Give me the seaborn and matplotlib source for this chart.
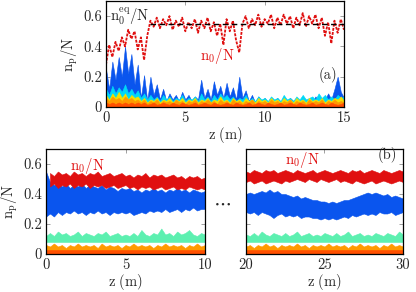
import numpy as np
import seaborn as sns
import matplotlib
matplotlib.use("Agg")
import matplotlib.pyplot as plt

# ---- panel (a): z in [0, 15] m ----
z_a = [0.0, 0.2, 0.4, 0.6, 0.8, 1.0, 1.2, 1.4, 1.6, 1.8, 2.0, 2.2, 2.4, 2.6, 2.8, 3.0,
       3.2, 3.4, 3.6, 3.8, 4.0, 4.2, 4.4, 4.6, 4.8, 5.0, 5.2, 5.4, 5.6, 5.8, 6.0, 6.2,
       6.4, 6.6, 6.8, 7.0, 7.2, 7.4, 7.6, 7.8, 8.0, 8.2, 8.4, 8.6, 8.8, 9.0, 9.2, 9.4,
       9.6, 9.8, 10.0, 10.2, 10.4, 10.6, 10.8, 11.0, 11.2, 11.4, 11.6, 11.8, 12.0, 12.2,
       12.4, 12.6, 12.8, 13.0, 13.2, 13.4, 13.6, 13.8, 14.0, 14.2, 14.4, 14.6, 14.8, 15.0]
n0_a = [0.28, 0.41, 0.33, 0.43, 0.37, 0.46, 0.40, 0.51, 0.45, 0.50, 0.38, 0.46, 0.31, 0.47,
        0.57, 0.53, 0.59, 0.52, 0.58, 0.54, 0.60, 0.51, 0.57, 0.53, 0.59, 0.50, 0.56, 0.52,
        0.58, 0.49, 0.57, 0.52, 0.59, 0.50, 0.56, 0.47, 0.55, 0.41, 0.58, 0.50, 0.57, 0.44,
        0.36, 0.55, 0.60, 0.52, 0.58, 0.54, 0.61, 0.53, 0.58, 0.55, 0.61, 0.52, 0.59, 0.54,
        0.61, 0.55, 0.60, 0.52, 0.59, 0.54, 0.62, 0.53, 0.60, 0.55, 0.61, 0.52, 0.59, 0.47,
        0.56, 0.42, 0.57, 0.49, 0.58, 0.51]
blue_a = [0.25, 0.12, 0.30, 0.18, 0.33, 0.20, 0.40, 0.22, 0.35, 0.15, 0.28, 0.06, 0.21, 0.04,
          0.20, 0.08, 0.15, 0.05, 0.12, 0.04, 0.09, 0.05, 0.08, 0.04, 0.10, 0.05, 0.08, 0.04,
          0.07, 0.05, 0.18, 0.06, 0.12, 0.05, 0.17, 0.08, 0.14, 0.06, 0.16, 0.07, 0.13, 0.05,
          0.20, 0.06, 0.11, 0.04, 0.08, 0.03, 0.07, 0.04, 0.06, 0.03, 0.05, 0.04, 0.06, 0.03,
          0.05, 0.03, 0.06, 0.04, 0.05, 0.03, 0.06, 0.04, 0.05, 0.03, 0.07, 0.04, 0.06, 0.05,
          0.09, 0.05, 0.12, 0.20, 0.10, 0.06]
cyan_a = [0.12, 0.08, 0.14, 0.09, 0.13, 0.10, 0.15, 0.09, 0.12, 0.08, 0.11,
          0.06, 0.09, 0.05, 0.08, 0.05, 0.07, 0.04, 0.08, 0.05, 0.07, 0.04, 0.06, 0.05, 0.08,
          0.04, 0.06, 0.05, 0.07, 0.04, 0.09, 0.05, 0.07, 0.04, 0.08, 0.05, 0.09, 0.06, 0.08,
          0.05, 0.07, 0.04, 0.06, 0.05, 0.08, 0.04, 0.06, 0.04, 0.07, 0.05, 0.06, 0.04, 0.07,
          0.05, 0.06, 0.04, 0.08, 0.05, 0.06, 0.04, 0.07, 0.05, 0.08, 0.05, 0.06, 0.07, 0.05,
          0.09, 0.06, 0.08, 0.05, 0.07, 0.05, 0.08, 0.06, 0.07]
yellow_a = [0.08, 0.05, 0.09, 0.06, 0.10, 0.06, 0.09, 0.05, 0.08, 0.06, 0.07,
            0.04, 0.06, 0.03, 0.05, 0.04, 0.06, 0.03, 0.05, 0.04, 0.06, 0.03, 0.05, 0.04,
            0.06, 0.03, 0.05, 0.04, 0.06, 0.03, 0.05, 0.04, 0.06, 0.03, 0.05, 0.04, 0.07,
            0.04, 0.05, 0.03, 0.06, 0.04, 0.05, 0.03, 0.06, 0.04, 0.05, 0.03, 0.06, 0.04,
            0.05, 0.03, 0.06, 0.04, 0.05, 0.03, 0.06, 0.04, 0.05, 0.03, 0.06, 0.04, 0.05,
            0.03, 0.06, 0.04, 0.05, 0.04, 0.06, 0.03, 0.05, 0.04, 0.06, 0.05, 0.07, 0.04]
orange_a = [0.06, 0.04, 0.07, 0.05, 0.06, 0.04, 0.07, 0.05, 0.06, 0.04, 0.05,
            0.03, 0.05, 0.02, 0.04, 0.03, 0.05, 0.02, 0.04, 0.03, 0.04, 0.02, 0.05, 0.03,
            0.04, 0.02, 0.04, 0.03, 0.05, 0.02, 0.04, 0.03, 0.05, 0.03, 0.04, 0.02, 0.05,
            0.03, 0.04, 0.02, 0.05, 0.03, 0.04, 0.02, 0.04, 0.03, 0.05, 0.02, 0.04, 0.03,
            0.04, 0.02, 0.05, 0.03, 0.04, 0.02, 0.04, 0.03, 0.05, 0.02, 0.04, 0.03, 0.04,
            0.02, 0.05, 0.03, 0.04, 0.03, 0.05, 0.02, 0.04, 0.03, 0.05, 0.03, 0.04, 0.03]
redor_a = [0.03, 0.02, 0.03, 0.02, 0.03, 0.02, 0.03, 0.02, 0.03, 0.02, 0.03,
           0.02, 0.03, 0.015, 0.02, 0.03, 0.015, 0.02, 0.03, 0.02, 0.015, 0.03, 0.02,
           0.015, 0.03, 0.02, 0.015, 0.02, 0.03, 0.015, 0.02, 0.03, 0.02, 0.015, 0.03,
           0.02, 0.015, 0.02, 0.03, 0.02, 0.015, 0.03, 0.02, 0.015, 0.02, 0.03, 0.015,
           0.02, 0.03, 0.02, 0.015, 0.03, 0.02, 0.015, 0.02, 0.03, 0.015, 0.02, 0.03,
           0.02, 0.015, 0.03, 0.02, 0.015, 0.02, 0.03, 0.015, 0.02, 0.03, 0.02, 0.015,
           0.03, 0.02, 0.015, 0.02, 0.03]
n0_eq = 0.55
eq_z = [2.8, 15.0]

# ---- panel (b): z in [0, 10] m and [20, 30] m ----
z_b1 = [0.0, 0.25, 0.5, 0.75, 1.0, 1.25, 1.5, 1.75, 2.0, 2.25, 2.5, 2.75, 3.0, 3.25,
        3.5, 3.75, 4.0, 4.25, 4.5, 4.75, 5.0, 5.25, 5.5, 5.75, 6.0, 6.25, 6.5, 6.75,
        7.0, 7.25, 7.5, 7.75, 8.0, 8.25, 8.5, 8.75, 9.0, 9.25, 9.5, 9.75, 10.0]
z_b2 = [20.0, 20.25, 20.5, 20.75, 21.0, 21.25, 21.5, 21.75, 22.0, 22.25, 22.5, 22.75,
        23.0, 23.25, 23.5, 23.75, 24.0, 24.25, 24.5, 24.75, 25.0, 25.25, 25.5, 25.75,
        26.0, 26.25, 26.5, 26.75, 27.0, 27.25, 27.5, 27.75, 28.0, 28.25, 28.5, 28.75,
        29.0, 29.25, 29.5, 29.75, 30.0]

red_hi_1 = [np.nan, 0.54, 0.52, 0.55, 0.53, 0.54, 0.52, 0.55, 0.53, 0.54, 0.52, 0.54, 0.53,
            0.55, 0.52, 0.53, 0.54, 0.52, 0.53, 0.54, 0.52, 0.53, 0.51, 0.53, 0.52, 0.54,
            0.51, 0.53, 0.52, 0.53, 0.51, 0.52, 0.53, 0.51, 0.52, 0.50, 0.52, 0.51, 0.52,
            0.50, 0.51]
red_lo_1 = [np.nan, 0.45, 0.47, 0.44, 0.46, 0.45, 0.47, 0.44, 0.46, 0.45, 0.47, 0.44, 0.46,
            0.45, 0.46, 0.44, 0.45, 0.46, 0.44, 0.45, 0.46, 0.44, 0.45, 0.43, 0.45, 0.44,
            0.45, 0.43, 0.44, 0.45, 0.43, 0.44, 0.45, 0.43, 0.44, 0.43, 0.45, 0.44, 0.43,
            0.44, 0.43]
blue_hi_1 = [0.55, 0.48, 0.46, 0.47, 0.45, 0.47, 0.44, 0.46, 0.45, 0.47, 0.44, 0.46, 0.45,
             0.44, 0.46, 0.43, 0.45, 0.44, 0.42, 0.44, 0.43, 0.44, 0.42, 0.43, 0.41, 0.43,
             0.42, 0.44, 0.42, 0.43, 0.41, 0.43, 0.42, 0.44, 0.42, 0.43, 0.41, 0.43, 0.42,
             0.41, 0.42]
blue_lo_1 = [0.25, 0.27, 0.25, 0.28, 0.26, 0.28, 0.27, 0.29, 0.27, 0.28, 0.26, 0.28, 0.27,
             0.29, 0.27, 0.28, 0.26, 0.28, 0.27, 0.28, 0.27, 0.28, 0.26, 0.27, 0.28, 0.27,
             0.29, 0.28, 0.29, 0.28, 0.30, 0.28, 0.29, 0.30, 0.28, 0.30, 0.29, 0.31, 0.29,
             0.30, 0.30]
aqua_hi_1 = [0.12, 0.14, 0.12, 0.15, 0.13, 0.14, 0.12, 0.13, 0.15, 0.12, 0.14, 0.13, 0.12,
             0.14, 0.13, 0.15, 0.12, 0.13, 0.14, 0.12, 0.13, 0.12, 0.14, 0.12, 0.16, 0.13,
             0.12, 0.14, 0.13, 0.17, 0.13, 0.14, 0.12, 0.15, 0.13, 0.14, 0.16, 0.13, 0.12,
             0.14, 0.13]
orange_hi_1 = [0.06, 0.05, 0.07, 0.05, 0.06, 0.04, 0.06, 0.05, 0.07, 0.05, 0.06, 0.05,
               0.06, 0.04, 0.07, 0.05, 0.06, 0.05, 0.06, 0.04, 0.06, 0.05, 0.07, 0.05,
               0.06, 0.05, 0.06, 0.04, 0.06, 0.05, 0.07, 0.05, 0.06, 0.05, 0.06, 0.04,
               0.06, 0.05, 0.07, 0.05, 0.06]

red_hi_2 = [0.55, 0.54, 0.56, 0.55, 0.54, 0.56, 0.55, 0.56, 0.54, 0.55, 0.56, 0.55, 0.54,
            0.56, 0.55, 0.54, 0.55, 0.56, 0.54, 0.55, 0.56, 0.55, 0.54, 0.55, 0.56, 0.55,
            0.54, 0.56, 0.55, 0.56, 0.54, 0.55, 0.56, 0.55, 0.54, 0.56, 0.55, 0.54, 0.55,
            0.56, 0.55]
red_lo_2 = [0.48, 0.49, 0.47, 0.48, 0.49, 0.47, 0.48, 0.49, 0.48, 0.47, 0.49, 0.48, 0.49,
            0.50, 0.49, 0.48, 0.50, 0.49, 0.48, 0.50, 0.49, 0.48, 0.49, 0.50, 0.48, 0.49,
            0.48, 0.47, 0.49, 0.48, 0.47, 0.48, 0.49, 0.47, 0.48, 0.49, 0.48, 0.47, 0.48,
            0.49, 0.48]
blue_hi_2 = [0.40, 0.41, 0.40, 0.41, 0.42, 0.41, 0.43, 0.41, 0.42, 0.40, 0.40, 0.39, 0.38,
             0.39, 0.37, 0.38, 0.37, 0.36, 0.36, 0.35, 0.35, 0.34, 0.35, 0.34, 0.35, 0.36,
             0.36, 0.37, 0.38, 0.39, 0.40, 0.41, 0.40, 0.41, 0.40, 0.39, 0.40, 0.38, 0.39,
             0.38, 0.37]
blue_lo_2 = [0.28, 0.27, 0.28, 0.26, 0.28, 0.27, 0.26, 0.24, 0.26, 0.27, 0.25, 0.26, 0.25,
             0.26, 0.24, 0.25, 0.25, 0.24, 0.24, 0.23, 0.24, 0.23, 0.24, 0.23, 0.24, 0.25,
             0.24, 0.26, 0.25, 0.26, 0.27, 0.26, 0.27, 0.26, 0.28, 0.27, 0.27, 0.28, 0.26,
             0.27, 0.28]
aqua_hi_2 = [0.13, 0.12, 0.14, 0.12, 0.15, 0.13, 0.12, 0.14, 0.13, 0.12, 0.14, 0.12, 0.13,
             0.15, 0.12, 0.13, 0.14, 0.12, 0.13, 0.12, 0.14, 0.13, 0.12, 0.14, 0.12, 0.13,
             0.15, 0.12, 0.13, 0.14, 0.12, 0.13, 0.12, 0.14, 0.13, 0.12, 0.14, 0.13, 0.12,
             0.15, 0.13]
orange_hi_2 = [0.05, 0.06, 0.04, 0.06, 0.05, 0.07, 0.05, 0.06, 0.04, 0.06, 0.05, 0.06,
               0.05, 0.07, 0.05, 0.06, 0.04, 0.06, 0.05, 0.06, 0.05, 0.07, 0.05, 0.06,
               0.05, 0.06, 0.04, 0.06, 0.05, 0.07, 0.05, 0.06, 0.05, 0.06, 0.04, 0.06,
               0.05, 0.07, 0.05, 0.06, 0.05]
aqua_lo = 0.08
redor_hi = 0.03

yticks = [0, 0.2, 0.4, 0.6]
ytick_labels = ["0", "0.2", "0.4", "0.6"]

RED = "#e01010"
BLUE = "#0a55ee"
CYAN = "#00d8f8"
AQUA = "#5cf0b0"
YELLOW = "#f4e000"
ORANGE = "#ff9a00"
REDOR = "#ff5000"

sns.set_style("ticks")
plt.rcParams["font.family"] = "cmr10"
plt.rcParams["mathtext.fontset"] = "cm"
plt.rcParams["axes.formatter.use_mathtext"] = True
FS = 10.5

fig = plt.figure(figsize=(4.16, 2.92), dpi=100)
ax_a = fig.add_axes([0.2548, 0.6336, 0.5721, 0.363])
ax_b1 = fig.add_axes([0.1106, 0.1301, 0.3822, 0.3596])
ax_b2 = fig.add_axes([0.5913, 0.1301, 0.3774, 0.3596])


def style_axes(ax, xlim, xticks, ylabels=True):
    ax.set_xlim(*xlim)
    ax.set_ylim(0, 0.7)
    ax.set_xticks(xticks)
    ax.set_xticklabels([str(t) for t in xticks], fontsize=FS)
    ax.set_yticks(yticks)
    if ylabels:
        ax.set_yticklabels(ytick_labels, fontsize=FS)
    else:
        ax.set_yticklabels([])
    ax.tick_params(direction="in", top=True, right=True, length=3, width=0.6,
                   color="#909090", pad=3)
    for s in ax.spines.values():
        s.set_linewidth(0.9)
        s.set_color("black")
    ax.set_xlabel(r"$\mathrm{z\ (m)}$", fontsize=FS, labelpad=0)


# panel (a)
for vals, col in [(blue_a, BLUE), (cyan_a, CYAN), (yellow_a, YELLOW),
                  (orange_a, ORANGE), (redor_a, REDOR)]:
    ax_a.fill_between(z_a, 0, vals, color=col, lw=0.4, edgecolor=col)
sns.lineplot(x=z_a, y=n0_a, ax=ax_a, color=RED, lw=1.3, linestyle=(0, (1.6, 0.7)))
sns.lineplot(x=eq_z, y=[n0_eq, n0_eq], ax=ax_a, color="black", lw=1.0,
             linestyle=(0, (4, 2.5)))
style_axes(ax_a, (0, 15), [0, 5, 10, 15])
ax_a.set_ylabel(r"$\mathrm{n_p/N}$", fontsize=FS, labelpad=2)
ax_a.text(0.25, 0.60, r"$\mathrm{n_0^{eq}/N}$", fontsize=FS, va="center", ha="left")
ax_a.text(7.0, 0.34, r"$\mathrm{n_0/N}$", fontsize=FS, color=RED, va="center", ha="center")
ax_a.text(14.0, 0.21, "(a)", fontsize=FS, va="center", ha="center")

# panel (b)
for ax, z, rh, rl, bh, bl, ah, oh in [
        (ax_b1, z_b1, red_hi_1, red_lo_1, blue_hi_1, blue_lo_1, aqua_hi_1, orange_hi_1),
        (ax_b2, z_b2, red_hi_2, red_lo_2, blue_hi_2, blue_lo_2, aqua_hi_2, orange_hi_2)]:
    ax.fill_between(z, bl, bh, color=BLUE, lw=0.4, edgecolor=BLUE)
    ax.fill_between(z, rl, rh, color=RED, lw=0.4, edgecolor=RED)
    ax.fill_between(z, aqua_lo, ah, color=AQUA, lw=0.4, edgecolor=AQUA)
    ax.fill_between(z, 0, oh, color=ORANGE, lw=0.4, edgecolor=ORANGE)
    ax.fill_between(z, 0, redor_hi, color=REDOR, lw=0.4, edgecolor=REDOR)

style_axes(ax_b1, (0, 10), [0, 5, 10])
style_axes(ax_b2, (20, 30), [20, 25, 30], ylabels=False)
ax_b1.set_ylabel(r"$\mathrm{n_p/N}$", fontsize=FS, labelpad=2)
ax_b1.text(2.6, 0.59, r"$\mathrm{n_0/N}$", fontsize=FS, color=RED, va="center", ha="center")
ax_b2.text(23.6, 0.63, r"$\mathrm{n_0/N}$", fontsize=FS, color=RED, va="center", ha="center")
ax_b2.text(29.0, 0.66, "(b)", fontsize=FS, va="center", ha="center")
fig.text(0.534, 0.288, r"$\cdots$", fontsize=14, ha="center", va="baseline")

fig.savefig("out.png", dpi=100)
